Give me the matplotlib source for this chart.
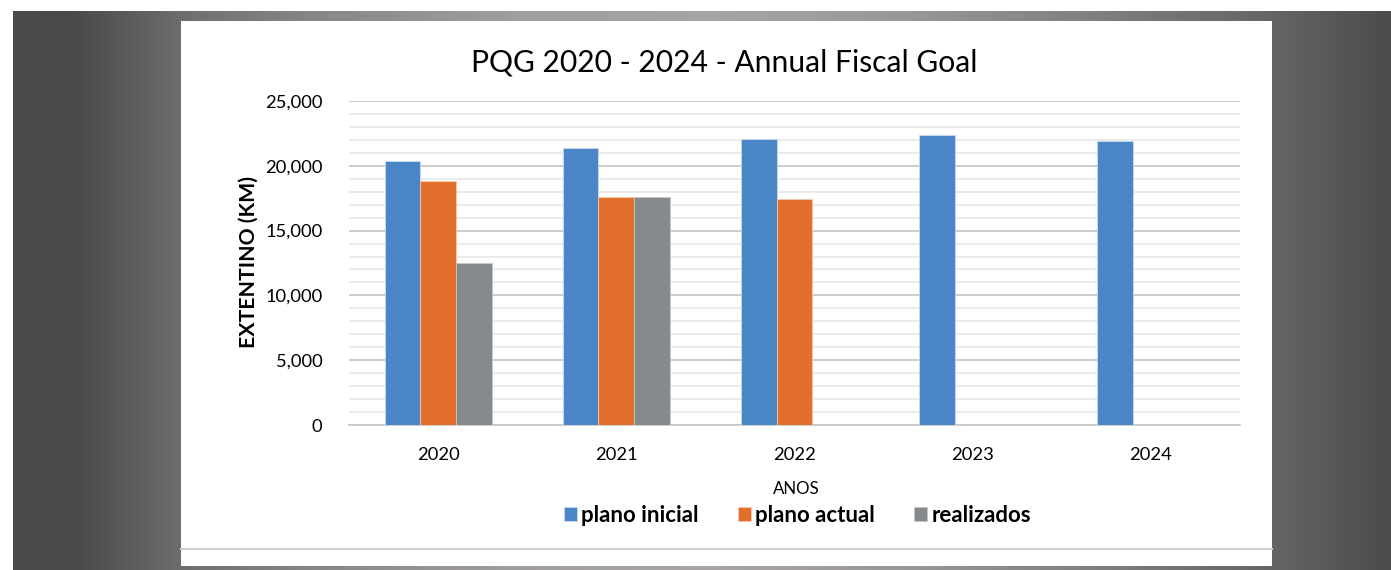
import numpy as np
import matplotlib
matplotlib.use("Agg")
import matplotlib.pyplot as plt
from matplotlib.ticker import FuncFormatter, MultipleLocator
from matplotlib.patches import Rectangle

# ---- data ----
years = ["2020", "2021", "2022", "2023", "2024"]
plano_inicial = [20400, 21400, 22100, 22400, 21900]
plano_actual = [18800, 17600, 17400, 0, 0]
realizados = [12500, 17600, 0, 0, 0]
series_names = ["plano inicial", "plano actual", "realizados"]
series_colors = ["#4a86c6", "#e36f2c", "#878a8d"]

plt.rcParams['font.family'] = ['Lato', 'DejaVu Sans']

W, H = 1391, 570
fig = plt.figure(figsize=(W / 100, H / 100), dpi=100)
fig.patch.set_facecolor("white")

# background gradient band
bg = fig.add_axes([0, 0, 1, 1], zorder=-10)
bg.axis("off")
xs = np.arange(W)
gx = [0, 60, 181, 300, 500, 700, 900, 1100, 1272, 1391]
gv = [0x4c, 0x4a, 0x72, 0x88, 0xa0, 0xa8, 0x9a, 0x80, 0x66, 0x4c]
vals = np.interp(xs, gx, gv) / 255.0
img = np.tile(vals, (10, 1))
img = np.stack([img, img * 0.985, img * 0.98], axis=-1)
bg.imshow(img, extent=[13, W, 570, 11], aspect="auto", interpolation="bilinear")
bg.add_patch(Rectangle((181, 21), 1272 - 181, 545, facecolor="white", edgecolor="none"))
bg.plot([181, 1272], [548.5, 548.5], color="#d0d0d0", lw=1.5)
bg.set_xlim(0, W)
bg.set_ylim(H, 0)

# main chart
ax = fig.add_axes([349 / W, 1 - 425 / H, (1240 - 349) / W, (425 - 101) / H])
ax.set_facecolor("none")
x = np.arange(len(years))
bw = 0.2
edge_cols = ["#c9dcf0", "#f5c8ae", "#c4c6c8"]
for i, (vals_s, name, col) in enumerate(zip([plano_inicial, plano_actual, realizados],
                                           series_names, series_colors)):
    ax.bar(x + (i - 1) * bw, vals_s, width=bw, color=col, label=name,
           edgecolor=edge_cols[i], linewidth=0.6, zorder=3)

ax.set_xlim(-0.5, len(years) - 0.5)
ax.set_ylim(0, 25000)
ax.yaxis.set_major_locator(MultipleLocator(5000))
ax.yaxis.set_minor_locator(MultipleLocator(1000))
ax.yaxis.set_major_formatter(FuncFormatter(lambda v, p: f"{int(v):,}"))
ax.grid(axis="y", which="major", color="#c8c8c8", lw=1.3, zorder=0)
ax.grid(axis="y", which="minor", color="#e8e8e8", lw=1.3, zorder=0)
ax.set_axisbelow(True)
for s in ["top", "right", "left"]:
    ax.spines[s].set_visible(False)
ax.spines["bottom"].set_color("#c8c8c8")
ax.spines["bottom"].set_linewidth(1.3)
ax.tick_params(axis="both", which="both", length=0, labelsize=13.2, colors="#000000")
ax.tick_params(axis="y", pad=19)
ax.tick_params(axis="x", pad=16)
ax.set_xticks(x)
ax.set_xticklabels(years)

fig.text(249 / W, 1 - 262 / H, "EXTENTINO (KM)", fontsize=15.3, fontweight="bold",
         rotation=90, ha="center", va="center")
fig.text(796 / W, 1 - 489 / H, "ANOS", fontsize=12.2, ha="center", va="center")
fig.text(724.5 / W, 1 - 62 / H, "PQG 2020 - 2024 - Annual Fiscal Goal", fontsize=21.6,
         ha="center", va="center")

leg = ax.legend(loc="center", bbox_to_anchor=(797.5 / W, 1 - 515 / H),
                bbox_transform=fig.transFigure, ncol=3, frameon=False,
                prop={"size": 16, "weight": "bold"}, handlelength=0.6,
                handleheight=0.6, handletextpad=0.2, columnspacing=1.75,
                borderpad=0, borderaxespad=0)

fig.savefig("out.png", dpi=100)
